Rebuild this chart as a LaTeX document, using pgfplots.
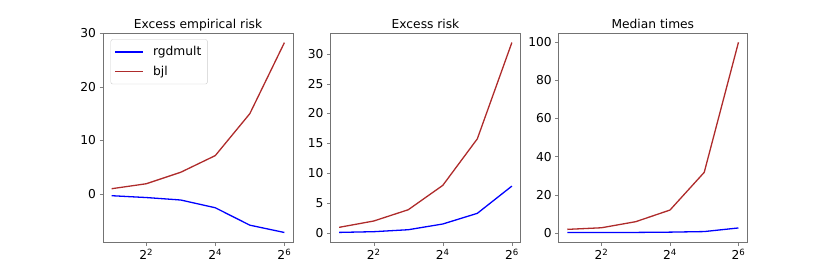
\documentclass[border=0pt]{standalone}
\usepackage{fontspec}
\setmainfont{DejaVu Sans}
\usepackage{pgfplots}
\pgfplotsset{compat=1.18}
\definecolor{rgd}{HTML}{0000FF}
\definecolor{bjl}{HTML}{AE2B2B}
\begin{document}
\begin{tikzpicture}[x=1bp,y=1bp]
\useasboundingbox (0,0) rectangle (830,277);
\begin{axis}[scale only axis, width=190bp, height=209bp,
    xmode=log, log basis x=2,
    xmin=1.6818, xmax=76.11,
    xtick={4,16,64}, xticklabels={2\textsuperscript{2},2\textsuperscript{4},2\textsuperscript{6}},
    minor xtick={},
    tick align=outside, tick pos=left,
    major tick length=3.5bp,
    axis line style={black!55, line width=0.9bp},
    tick label style={font=\fontsize{12.3}{14}\selectfont},
    /pgf/number format/assume math mode=true,
    title style={font=\fontsize{12.3}{15}\selectfont, anchor=base, yshift=-1bp},
    anchor=south west, at={(103bp,35bp)}, title={Excess empirical risk},
  ymin=-8.87, ymax=30.0, ytick={0,10,20,30},
  legend style={at={(0.04,0.97)}, anchor=north west, draw=black!20, rounded corners=2bp,
    font=\fontsize{12.3}{14}\selectfont, row sep=5bp, inner xsep=4bp, inner ysep=5bp,
    /tikz/every odd column/.append style={column sep=7bp}},
  legend image code/.code={\draw[#1, line width=1.3bp] (0bp,0bp) -- (28bp,0bp);},
  legend cell align=left]
\addplot[color=rgd, line width=1.3bp, no marks] coordinates {(2,-0.26) (4,-0.6) (8,-1.06) (16,-2.5) (32,-5.74) (64,-7.1)};
\addlegendentry{rgdmult}
\addplot[color=bjl, line width=1.3bp, no marks] coordinates {(2,1.04) (4,1.96) (8,4.1) (16,7.2) (32,15.0) (64,28.2)};
\addlegendentry{bjl}
\end{axis}
\begin{axis}[scale only axis, width=190bp, height=209bp,
    xmode=log, log basis x=2,
    xmin=1.6818, xmax=76.11,
    xtick={4,16,64}, xticklabels={2\textsuperscript{2},2\textsuperscript{4},2\textsuperscript{6}},
    minor xtick={},
    tick align=outside, tick pos=left,
    major tick length=3.5bp,
    axis line style={black!55, line width=0.9bp},
    tick label style={font=\fontsize{12.3}{14}\selectfont},
    /pgf/number format/assume math mode=true,
    title style={font=\fontsize{12.3}{15}\selectfont, anchor=base, yshift=-1bp},
    anchor=south west, at={(330.5bp,35bp)}, title={Excess risk},
  ymin=-1.56, ymax=33.5, ytick={0,5,10,15,20,25,30}]
\addplot[color=rgd, line width=1.3bp, no marks] coordinates {(2,0.05) (4,0.17) (8,0.5) (16,1.46) (32,3.25) (64,7.82)};
\addplot[color=bjl, line width=1.3bp, no marks] coordinates {(2,0.9) (4,1.96) (8,3.85) (16,7.94) (32,15.75) (64,31.9)};
\end{axis}
\begin{axis}[scale only axis, width=188.3bp, height=209bp,
    xmode=log, log basis x=2,
    xmin=1.6818, xmax=76.11,
    xtick={4,16,64}, xticklabels={2\textsuperscript{2},2\textsuperscript{4},2\textsuperscript{6}},
    minor xtick={},
    tick align=outside, tick pos=left,
    major tick length=3.5bp,
    axis line style={black!55, line width=0.9bp},
    tick label style={font=\fontsize{12.3}{14}\selectfont},
    /pgf/number format/assume math mode=true,
    title style={font=\fontsize{12.3}{15}\selectfont, anchor=base, yshift=-1bp},
    anchor=south west, at={(558.7bp,35bp)}, title={Median times},
  ymin=-4.88, ymax=104.9, ytick={0,20,40,60,80,100}]
\addplot[color=rgd, line width=1.3bp, no marks] coordinates {(2,0.1) (4,0.1) (8,0.15) (16,0.3) (32,0.6) (64,2.5)};
\addplot[color=bjl, line width=1.3bp, no marks] coordinates {(2,1.75) (4,2.6) (8,5.8) (16,11.9) (32,31.7) (64,100.0)};
\end{axis}
\end{tikzpicture}
\end{document}
